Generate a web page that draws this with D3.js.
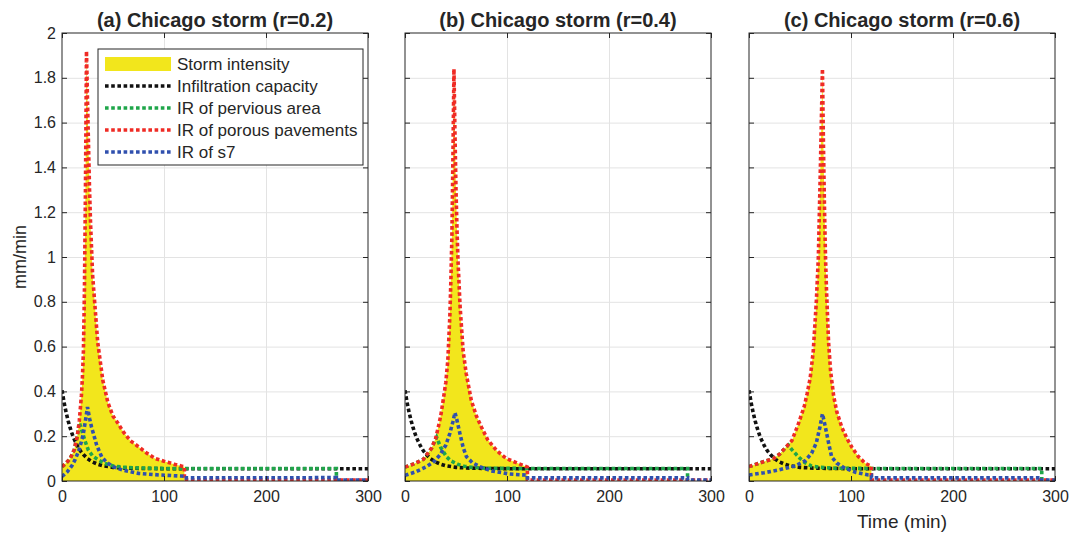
<!DOCTYPE html>
<html>
<head>
<meta charset="utf-8">
<script src="https://cdn.jsdelivr.net/npm/d3@7"></script>
<style>
  body { margin: 0; background: #fff; }
  text { font-family: "Liberation Sans", Arial, sans-serif; fill: #262626; }
</style>
</head>
<body>
<svg id="chart" width="1081" height="534"></svg>
<script>
// ---- Panel titles and legend entries ----
const titles = ["(a) Chicago storm (r=0.2)", "(b) Chicago storm (r=0.4)", "(c) Chicago storm (r=0.6)"];
const legendLabels = ["Storm intensity", "Infiltration capacity", "IR of pervious area", "IR of porous pavements", "IR of s7"];

// ---- Axis ticks ----
const xTicks = [0, 100, 200, 300];
const yTicks = [0, 0.2, 0.4, 0.6, 0.8, 1, 1.2, 1.4, 1.6, 1.8, 2];

// ---- Infiltration capacity (same for all panels), mm/min ----
const capTime  = [0, 2, 4, 6, 8, 10, 12, 15, 18, 21, 25, 30, 35, 40, 50, 60, 80, 100, 150, 200, 250, 300];
const capValue = [0.405, 0.352, 0.307, 0.269, 0.237, 0.209, 0.186, 0.158, 0.135, 0.118, 0.100, 0.085, 0.075, 0.068, 0.061, 0.058, 0.056, 0.055, 0.055, 0.055, 0.055, 0.055];

// ---- (a) r = 0.2 ----
const stormTimeA = [0, 4, 8, 12, 15, 17, 19, 20, 21, 22, 23, 24, 25, 26, 27, 28, 30, 32, 35, 40, 45, 50, 55, 60, 67, 75, 83, 91, 100, 110, 117, 120];
const stormA     = [0.064, 0.08, 0.10, 0.14, 0.20, 0.27, 0.38, 0.46, 0.58, 0.85, 1.3, 1.92, 1.7, 1.5, 1.3, 1.15, 0.92, 0.80, 0.62, 0.45, 0.35, 0.29, 0.257, 0.22, 0.18, 0.153, 0.125, 0.101, 0.088, 0.075, 0.067, 0.064];
const perviousTimeA = [0, 4, 8, 12, 15, 17, 19.3, 22.5, 25.8, 30, 35.6, 42, 50, 60, 75, 100, 120, 200, 269, 269];
const perviousA     = [0.064, 0.08, 0.10, 0.14, 0.20, 0.26, 0.228, 0.18, 0.138, 0.112, 0.094, 0.078, 0.067, 0.062, 0.058, 0.056, 0.056, 0.056, 0.056, 0.004];
const s7TimeA = [0, 5, 10, 12.7, 16, 19, 21, 23, 25, 27, 29, 30.7, 34, 38.9, 44, 50, 60, 75, 95, 117, 120, 120, 269, 269, 300];
const s7A     = [0.02, 0.04, 0.07, 0.094, 0.13, 0.175, 0.213, 0.27, 0.33, 0.28, 0.24, 0.213, 0.16, 0.108, 0.082, 0.064, 0.048, 0.034, 0.027, 0.022, 0.021, 0.014, 0.015, 0.004, 0.004];

// ---- (b) r = 0.4 ----
const stormTimeB = [0, 8, 18, 26, 30, 32.6, 35, 37.4, 40, 42, 44, 45, 46, 47, 48, 49, 50, 51, 52, 54, 57, 60, 65, 70, 75, 81, 90, 99, 110, 119, 120];
const stormB     = [0.062, 0.075, 0.097, 0.146, 0.19, 0.24, 0.29, 0.36, 0.44, 0.54, 0.74, 0.9, 1.1, 1.45, 1.84, 1.55, 1.3, 1.12, 0.98, 0.78, 0.58, 0.48, 0.36, 0.29, 0.24, 0.185, 0.135, 0.101, 0.08, 0.064, 0.062];
const perviousTimeB = [0, 8, 18, 26, 31, 35, 40.7, 45, 52, 58, 65, 80, 120, 200, 277, 277];
const perviousB     = [0.062, 0.075, 0.097, 0.146, 0.195, 0.15, 0.108, 0.09, 0.074, 0.066, 0.061, 0.057, 0.056, 0.056, 0.056, 0.004];
const s7TimeB = [0, 10, 21.2, 28, 34.2, 40, 44, 47, 49, 51, 53.8, 57, 60.3, 66, 73.3, 85, 102.6, 120, 120, 277, 277, 300];
const s7B     = [0.025, 0.04, 0.064, 0.085, 0.116, 0.16, 0.213, 0.265, 0.305, 0.27, 0.213, 0.15, 0.108, 0.082, 0.064, 0.045, 0.031, 0.026, 0.014, 0.014, 0.004, 0.004];

// ---- (c) r = 0.6 ----
const stormTimeC = [0, 12, 24, 30, 36, 42, 48, 54, 57, 60, 63, 66, 68, 69, 70, 71, 72, 73, 74, 75, 76, 78, 80, 83, 86, 91, 96, 101, 107, 114, 120];
const stormC     = [0.064, 0.083, 0.10, 0.12, 0.15, 0.18, 0.25, 0.33, 0.39, 0.46, 0.58, 0.8, 1.0, 1.2, 1.4, 1.62, 1.84, 1.5, 1.22, 1.0, 0.85, 0.62, 0.49, 0.38, 0.31, 0.24, 0.19, 0.15, 0.11, 0.079, 0.065];
const perviousTimeC = [0, 12, 24, 30, 36, 38.5, 41.8, 46, 50, 55, 61.4, 70, 85, 120, 200, 287, 287];
const perviousC     = [0.064, 0.083, 0.10, 0.12, 0.15, 0.16, 0.141, 0.12, 0.101, 0.082, 0.067, 0.061, 0.057, 0.056, 0.056, 0.056, 0.004];
const s7TimeC = [0, 15, 28.7, 45.1, 55, 61.4, 66, 69.6, 72, 74, 76.1, 78.5, 81, 86, 94.1, 105, 117, 120, 120, 287, 287, 300];
const s7C     = [0.027, 0.037, 0.049, 0.067, 0.09, 0.124, 0.17, 0.242, 0.30, 0.26, 0.213, 0.16, 0.108, 0.08, 0.057, 0.038, 0.027, 0.026, 0.014, 0.014, 0.004, 0.004];

// Porous pavements keep pace with the storm, then fall to a trickle after the rain stops
const porousTailTime = [120, 300];
const porousTail     = [0.004, 0.004];

// ---- Layout / styles ----
const plotTop = 33, plotBottom = 481, plotWidth = 306;
const panelLeft = [62, 405, 749];
const colors = { storm: "#f2e61c", cap: "#111111", pervious: "#1fa64a", porous: "#ef2b25", s7: "#3050ae", axis: "#262626", grid: "#e3e3e3" };
const dash = "3.6 2.6";
const lineWidth = 3.6;

const zip = (t, v) => t.map((d, i) => [d, v[i]]);
const panels = [
  { storm: zip(stormTimeA, stormA), pervious: zip(perviousTimeA, perviousA), s7: zip(s7TimeA, s7A) },
  { storm: zip(stormTimeB, stormB), pervious: zip(perviousTimeB, perviousB), s7: zip(s7TimeB, s7B) },
  { storm: zip(stormTimeC, stormC), pervious: zip(perviousTimeC, perviousC), s7: zip(s7TimeC, s7C) }
];
const capacity = zip(capTime, capValue);
const tail = zip(porousTailTime, porousTail);

const svg = d3.select("#chart");
const y = d3.scaleLinear().domain([0, 2]).range([plotBottom, plotTop]);
const fmt = d => String(+d.toFixed(1));

panels.forEach((p, i) => {
  const L = panelLeft[i];
  const x = d3.scaleLinear().domain([0, 300]).range([L, L + plotWidth]);
  const g = svg.append("g");

  const clipId = "clip" + i;
  svg.append("clipPath").attr("id", clipId)
    .append("rect").attr("x", L).attr("y", plotTop).attr("width", plotWidth).attr("height", plotBottom - plotTop);

  // grid
  g.append("g").attr("transform", `translate(0,${plotBottom})`)
    .call(d3.axisBottom(x).tickValues(xTicks.slice(1, -1)).tickSize(-(plotBottom - plotTop)).tickFormat(""))
    .call(s => s.select(".domain").remove())
    .selectAll("line").attr("stroke", colors.grid).attr("stroke-width", 1);
  g.append("g").attr("transform", `translate(${L},0)`)
    .call(d3.axisLeft(y).tickValues(yTicks.slice(1, -1)).tickSize(-plotWidth).tickFormat(""))
    .call(s => s.select(".domain").remove())
    .selectAll("line").attr("stroke", colors.grid).attr("stroke-width", 1);

  const plot = g.append("g").attr("clip-path", `url(#${clipId})`);

  // storm intensity
  plot.append("path").datum(p.storm)
    .attr("fill", colors.storm)
    .attr("d", d3.area().x(d => x(d[0])).y0(y(0)).y1(d => y(d[1])));

  const line = d3.line().x(d => x(d[0])).y(d => y(d[1]));
  const series = [
    { data: capacity, color: colors.cap },
    { data: p.pervious, color: colors.pervious },
    { data: p.storm.concat(tail), color: colors.porous },
    { data: p.s7, color: colors.s7 }
  ];
  series.forEach(s => {
    plot.append("path").datum(s.data)
      .attr("fill", "none").attr("stroke", s.color)
      .attr("stroke-width", lineWidth).attr("stroke-dasharray", dash)
      .attr("d", line);
  });

  // axes with inward ticks on all four sides
  const styleAxis = sel => {
    sel.select(".domain").remove();
    sel.selectAll("line").attr("stroke", colors.axis);
    sel.selectAll("text").attr("fill", colors.axis).style("font-size", "16px")
      .style("font-family", '"Liberation Sans", Arial, sans-serif');
  };
  g.append("g").attr("transform", `translate(0,${plotBottom})`)
    .call(d3.axisBottom(x).tickValues(xTicks).tickSizeInner(-5).tickSizeOuter(0).tickPadding(10).tickFormat(d3.format("d")))
    .call(styleAxis);
  g.append("g").attr("transform", `translate(0,${plotTop})`)
    .call(d3.axisTop(x).tickValues(xTicks).tickSizeInner(-5).tickSizeOuter(0).tickFormat(""))
    .call(styleAxis);
  g.append("g").attr("transform", `translate(${L},0)`)
    .call(d3.axisLeft(y).tickValues(yTicks).tickSizeInner(-5).tickSizeOuter(0).tickPadding(6)
      .tickFormat(i === 0 ? fmt : ""))
    .call(styleAxis);
  g.append("g").attr("transform", `translate(${L + plotWidth},0)`)
    .call(d3.axisRight(y).tickValues(yTicks).tickSizeInner(-5).tickSizeOuter(0).tickFormat(""))
    .call(styleAxis);

  g.append("rect")
    .attr("x", L).attr("y", plotTop).attr("width", plotWidth).attr("height", plotBottom - plotTop)
    .attr("fill", "none").attr("stroke", colors.axis).attr("stroke-width", 1);

  g.append("text")
    .attr("x", L + plotWidth / 2).attr("y", 27)
    .attr("text-anchor", "middle")
    .style("font-size", "20px").style("font-weight", "bold")
    .text(titles[i]);
});

// axis titles
svg.append("text")
  .attr("transform", `translate(26,${(plotTop + plotBottom) / 2}) rotate(-90)`)
  .attr("text-anchor", "middle").style("font-size", "18px")
  .text("mm/min");
svg.append("text")
  .attr("x", panelLeft[2] + plotWidth / 2).attr("y", 528)
  .attr("text-anchor", "middle").style("font-size", "19px")
  .text("Time (min)");

// legend inside panel (a)
const legend = svg.append("g");
legend.append("rect")
  .attr("x", 98).attr("y", 49).attr("width", 265).attr("height", 116)
  .attr("fill", "#fff").attr("stroke", colors.axis).attr("stroke-width", 1);
const legendColors = [colors.storm, colors.cap, colors.pervious, colors.porous, colors.s7];
legendLabels.forEach((lab, k) => {
  const cy = 64 + k * 22;
  if (k === 0) {
    legend.append("rect").attr("x", 105).attr("y", cy - 7).attr("width", 66).attr("height", 14)
      .attr("fill", legendColors[k]);
  } else {
    legend.append("line").attr("x1", 105).attr("x2", 171).attr("y1", cy).attr("y2", cy)
      .attr("stroke", legendColors[k]).attr("stroke-width", lineWidth).attr("stroke-dasharray", dash);
  }
  legend.append("text").attr("x", 177).attr("y", cy).attr("dy", "0.36em")
    .style("font-size", "17px").text(lab);
});
</script>
</body>
</html>
